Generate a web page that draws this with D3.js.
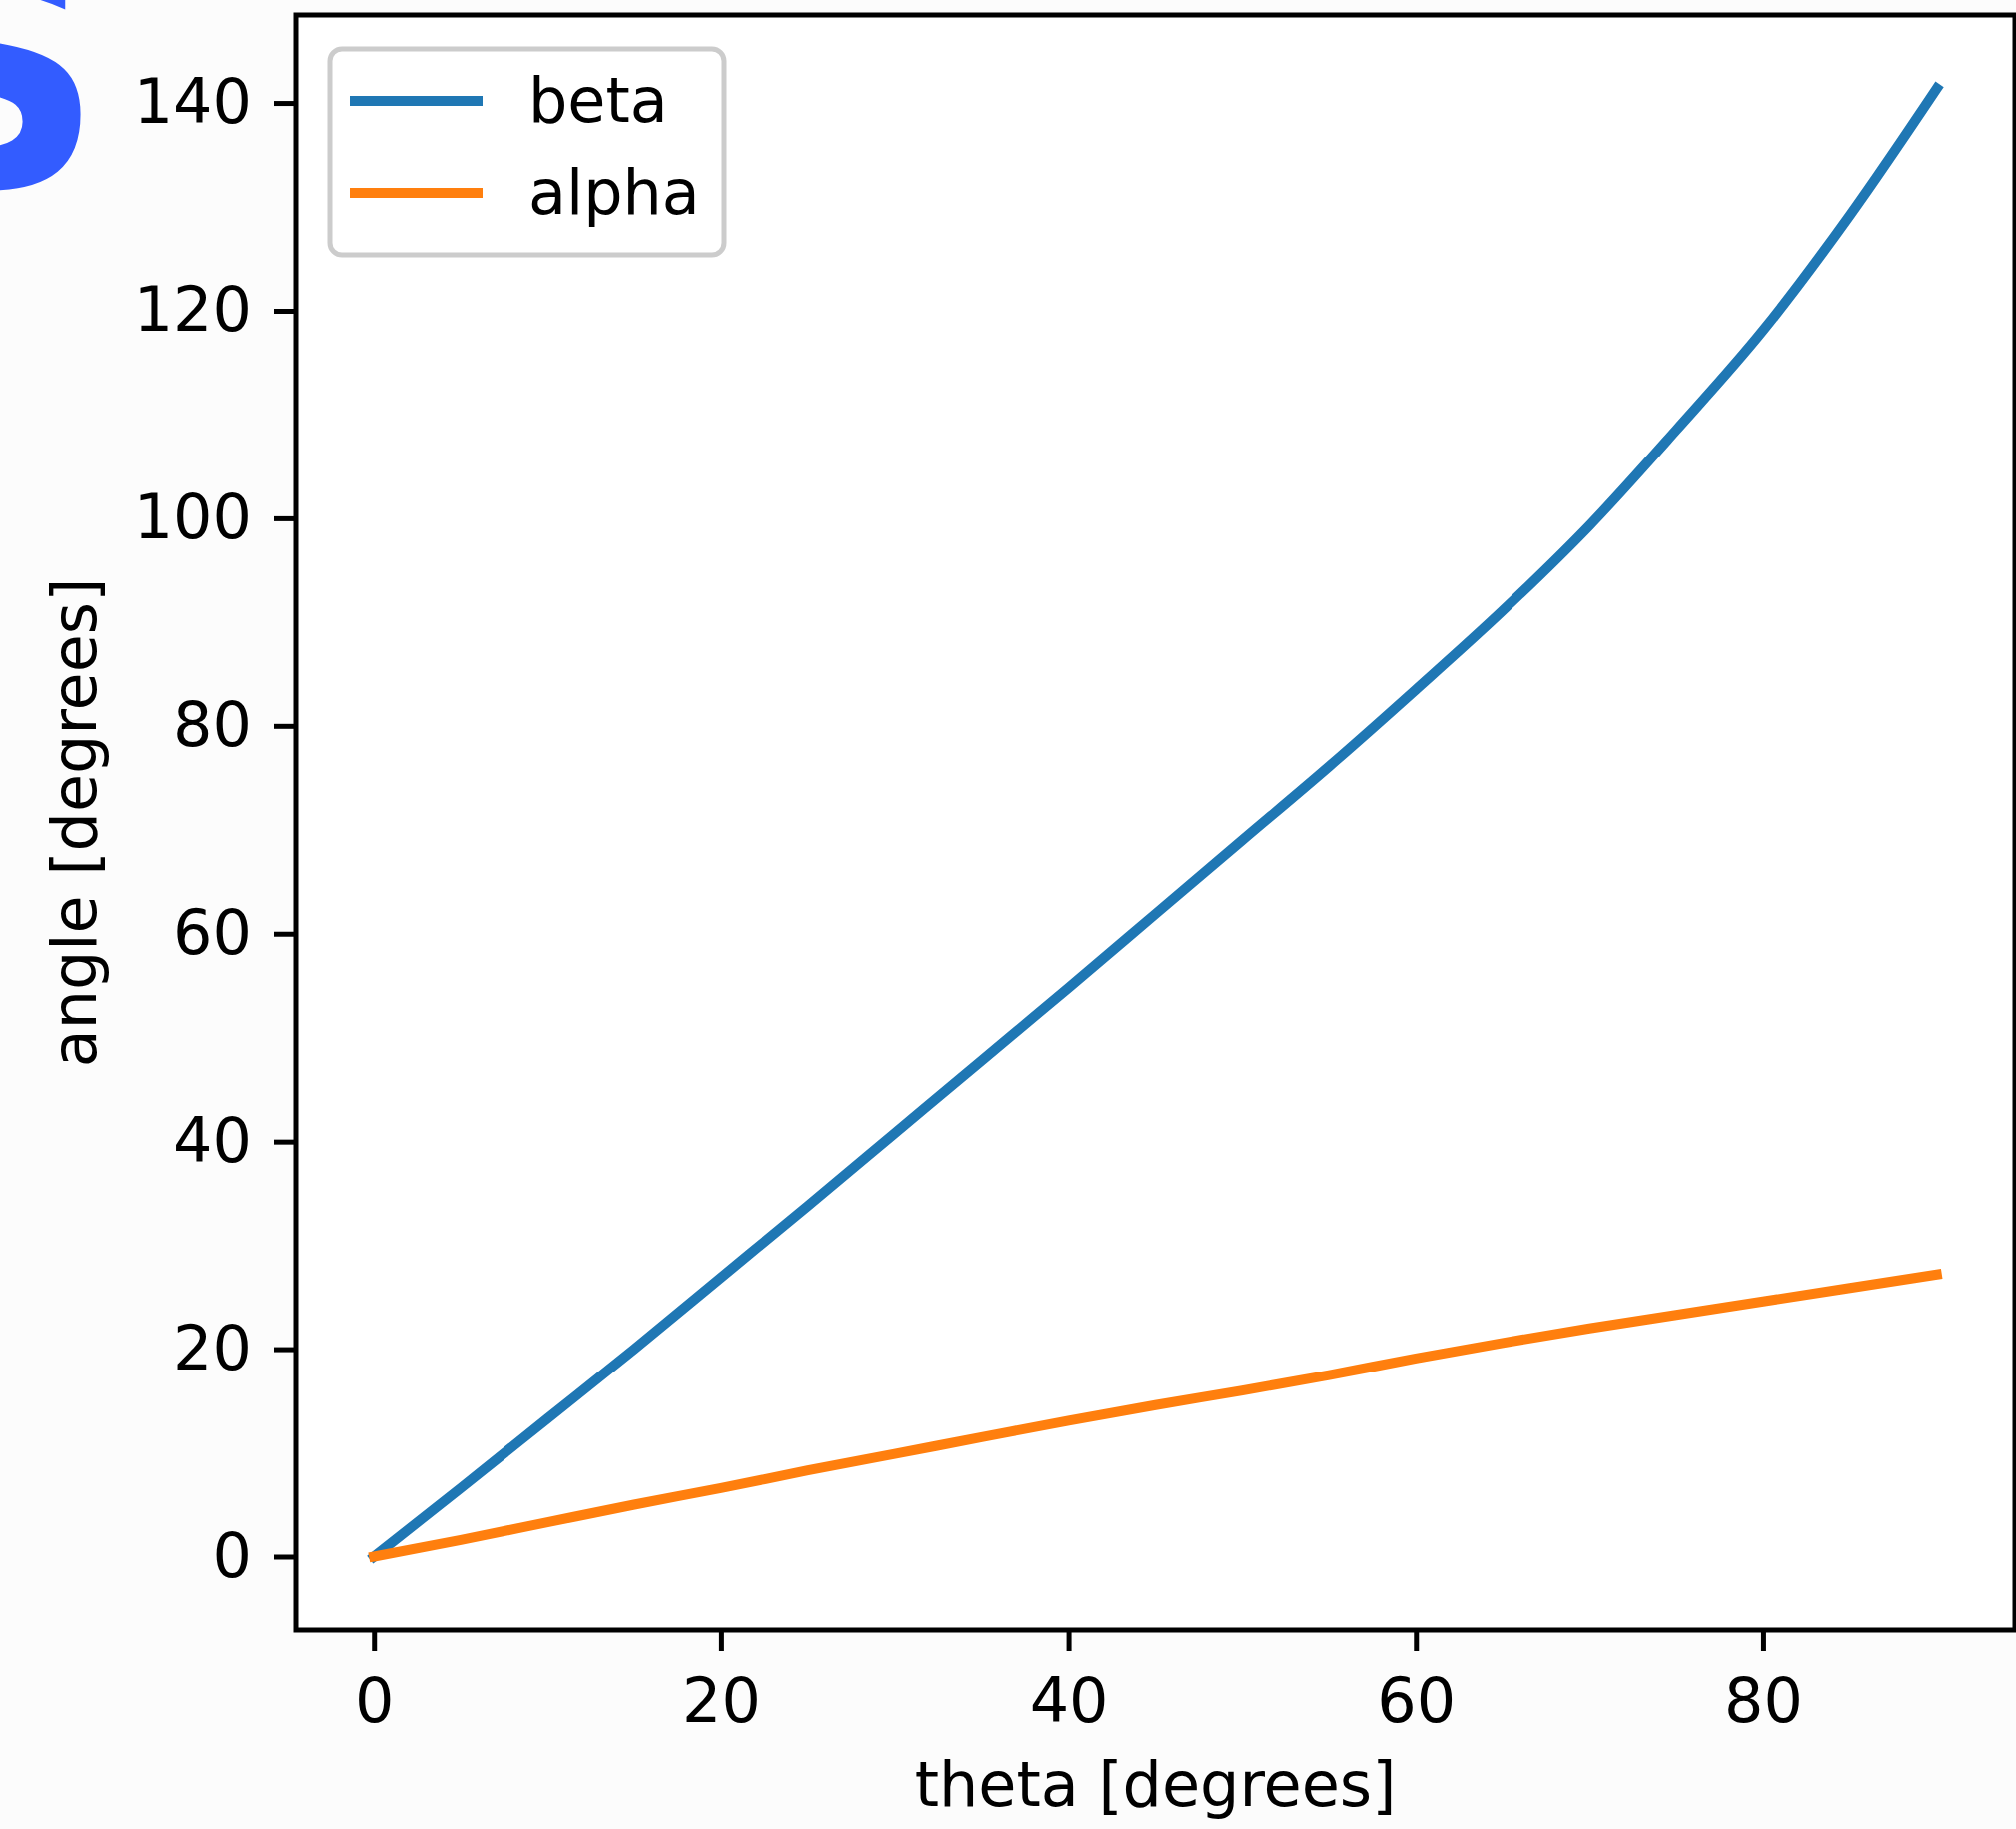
<!DOCTYPE html>
<html>
<head>
<meta charset="utf-8">
<script src="https://cdn.jsdelivr.net/npm/d3@7"></script>
<style>
  html, body { margin: 0; padding: 0; background: #fcfcfc; }
  svg { display: block; }
  text { font-family: "DejaVu Sans", sans-serif; }
</style>
</head>
<body>
<svg id="chart" width="2018" height="1831"></svg>
<script>
// ---- data ----
const theta = [0, 5, 10, 15, 20, 25, 30, 35, 40, 45, 50, 55, 60, 65, 70, 75, 80, 85, 90];
const beta  = [0, 6.6, 13.3, 20.0, 26.9, 33.8, 40.8, 47.8, 54.8, 61.9, 69.0, 76.1, 83.5, 91.1, 99.3, 108.5, 118.1, 129.2, 141.4];
const alpha = [0, 1.6, 3.3, 5.0, 6.6, 8.3, 9.9, 11.5, 13.1, 14.6, 16.0, 17.5, 19.1, 20.6, 22.0, 23.3, 24.6, 25.9, 27.2];
const seriesNames = ["beta", "alpha"];
const seriesColors = ["#1f77b4", "#ff7f0e"];
const xTicks = [0, 20, 40, 60, 80];
const yTicks = [0, 20, 40, 60, 80, 100, 120, 140];
const xLabel = "theta [degrees]";
const yLabel = "angle [degrees]";

// ---- layout ----
const svg = d3.select("#chart");
const plotLeft = 296, plotRight = 2017, plotTop = 15, plotBottom = 1632;
const fontSize = 62;

function padded(ext) {
  const m = (ext[1] - ext[0]) * 0.05;
  return [ext[0] - m, ext[1] + m];
}
const allY = beta.concat(alpha);
const x = d3.scaleLinear().domain(padded(d3.extent(theta))).range([plotLeft, plotRight]);
const y = d3.scaleLinear().domain(padded(d3.extent(allY))).range([plotBottom, plotTop]);

// partial logo glyph at the top-left corner (cut off in the reference too)
svg.append("text")
  .attr("x", 104).attr("y", 186)
  .attr("text-anchor", "end")
  .style("font-family", "'DejaVu Sans', sans-serif")
  .style("font-weight", "bold")
  .style("font-size", "320px")
  .attr("fill", "#335cff")
  .text("S");

// plot area background
svg.append("rect")
  .attr("x", plotLeft).attr("y", plotTop)
  .attr("width", plotRight - plotLeft).attr("height", plotBottom - plotTop)
  .attr("fill", "#ffffff");

// lines
const series = [beta, alpha];
const line = d3.line().curve(d3.curveMonotoneX).x((d, i) => x(theta[i])).y(d => y(d));
series.forEach((s, k) => {
  svg.append("path")
    .datum(s)
    .attr("d", line)
    .attr("fill", "none")
    .attr("stroke", seriesColors[k])
    .attr("stroke-width", 10)
    .attr("stroke-linejoin", "round")
    .attr("stroke-linecap", "square");
});

// axes
const xAxis = d3.axisBottom(x).tickValues(xTicks).tickSize(21).tickPadding(27).tickFormat(d3.format("d"));
const yAxis = d3.axisLeft(y).tickValues(yTicks).tickSize(22).tickPadding(22).tickFormat(d3.format("d"));

const gx = svg.append("g").attr("transform", `translate(0,${plotBottom})`).call(xAxis);
const gy = svg.append("g").attr("transform", `translate(${plotLeft},0)`).call(yAxis);
[gx, gy].forEach(g => {
  g.select(".domain").remove();
  g.selectAll(".tick line").attr("stroke", "#000").attr("stroke-width", 5);
  g.selectAll(".tick text")
    .attr("fill", "#000")
    .style("font-family", "'DejaVu Sans', sans-serif")
    .style("font-size", fontSize + "px");
});

// frame (spines)
svg.append("rect")
  .attr("x", plotLeft).attr("y", plotTop)
  .attr("width", plotRight - plotLeft).attr("height", plotBottom - plotTop)
  .attr("fill", "none")
  .attr("stroke", "#000")
  .attr("stroke-width", 5);

// axis labels
svg.append("text")
  .attr("x", (plotLeft + plotRight) / 2).attr("y", 1808)
  .attr("text-anchor", "middle")
  .style("font-size", fontSize + "px")
  .attr("fill", "#000")
  .text(xLabel);

svg.append("text")
  .attr("transform", `translate(96,${(plotTop + plotBottom) / 2}) rotate(-90)`)
  .attr("text-anchor", "middle")
  .style("font-size", fontSize + "px")
  .attr("fill", "#000")
  .text(yLabel);

// legend
const lg = svg.append("g");
lg.append("rect")
  .attr("x", 330).attr("y", 49)
  .attr("width", 395).attr("height", 206)
  .attr("rx", 12).attr("ry", 12)
  .attr("fill", "#ffffff").attr("fill-opacity", 0.8)
  .attr("stroke", "#cccccc").attr("stroke-width", 5);
const legendY = [101, 193];
seriesNames.forEach((name, k) => {
  lg.append("line")
    .attr("x1", 350).attr("x2", 483)
    .attr("y1", legendY[k]).attr("y2", legendY[k])
    .attr("stroke", seriesColors[k])
    .attr("stroke-width", 10);
  lg.append("text")
    .attr("x", 529).attr("y", legendY[k] + 21)
    .style("font-size", fontSize + "px")
    .attr("fill", "#000")
    .text(name);
});
</script>
</body>
</html>
